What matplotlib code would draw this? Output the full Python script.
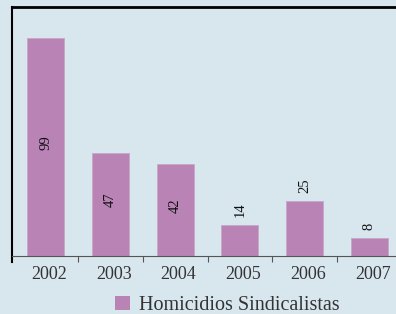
import matplotlib.pyplot as plt
from matplotlib.patches import Patch

years = ["2002", "2003", "2004", "2005", "2006", "2007"]
homicidios = [99, 47, 42, 14, 25, 8]
serie = "Homicidios Sindicalistas"

bg = "#d8e6ee"
bar_color = "#b983b5"

plt.rcParams["font.family"] = ["Liberation Serif", "DejaVu Serif"]

fig = plt.figure(figsize=(3.96, 3.14), dpi=100, facecolor=bg)
ax = fig.add_axes([12 / 396, 1 - 262 / 314, 404 / 396, 255 / 314])
ax.set_facecolor(bg)

x = list(range(len(years)))
ax.bar(x, homicidios, width=0.57, color=bar_color, edgecolor="#c9a6c8", linewidth=0.6, zorder=2)

for xi, v in zip(x, homicidios):
    if v >= 30:
        ax.text(xi, v / 2 + 2, str(v), rotation=90, ha="center", va="center",
                fontsize=10.5, color="#111111", zorder=3)
    else:
        ax.annotate(str(v), (xi, v), xytext=(0, 6), textcoords="offset points",
                    rotation=90, ha="center", va="bottom", fontsize=10.5, color="#111111")

ax.set_xlim(-0.52, 5.72)
ax.set_ylim(-2.7, 113.2)

ax.spines["bottom"].set_position(("data", 0))
ax.spines["bottom"].set_color("#555555")
ax.spines["top"].set_color("black")
ax.spines["top"].set_linewidth(2)
ax.spines["left"].set_color("black")
ax.spines["left"].set_linewidth(1.5)
ax.spines["right"].set_visible(False)

ax.set_yticks([])
ax.set_xticks([i + 0.5 for i in x[:-1]], minor=False)
ax.set_xticklabels([])
ax.tick_params(axis="x", which="major", direction="out", length=4, color="#555555")
ax.set_xticks([i + 0.05 for i in x], minor=True)
ax.set_xticklabels(years, minor=True, fontsize=13, color="#333333")
ax.tick_params(axis="x", which="minor", length=0, pad=7)

fig.legend(handles=[Patch(facecolor=bar_color, label=serie)], loc="center",
           bbox_to_anchor=(0.575, 0.028), frameon=False, fontsize=14.5,
           handlelength=0.75, handleheight=0.75, handletextpad=0.45, labelcolor="#333333")

fig.savefig("out.png", dpi=100, facecolor=bg)
